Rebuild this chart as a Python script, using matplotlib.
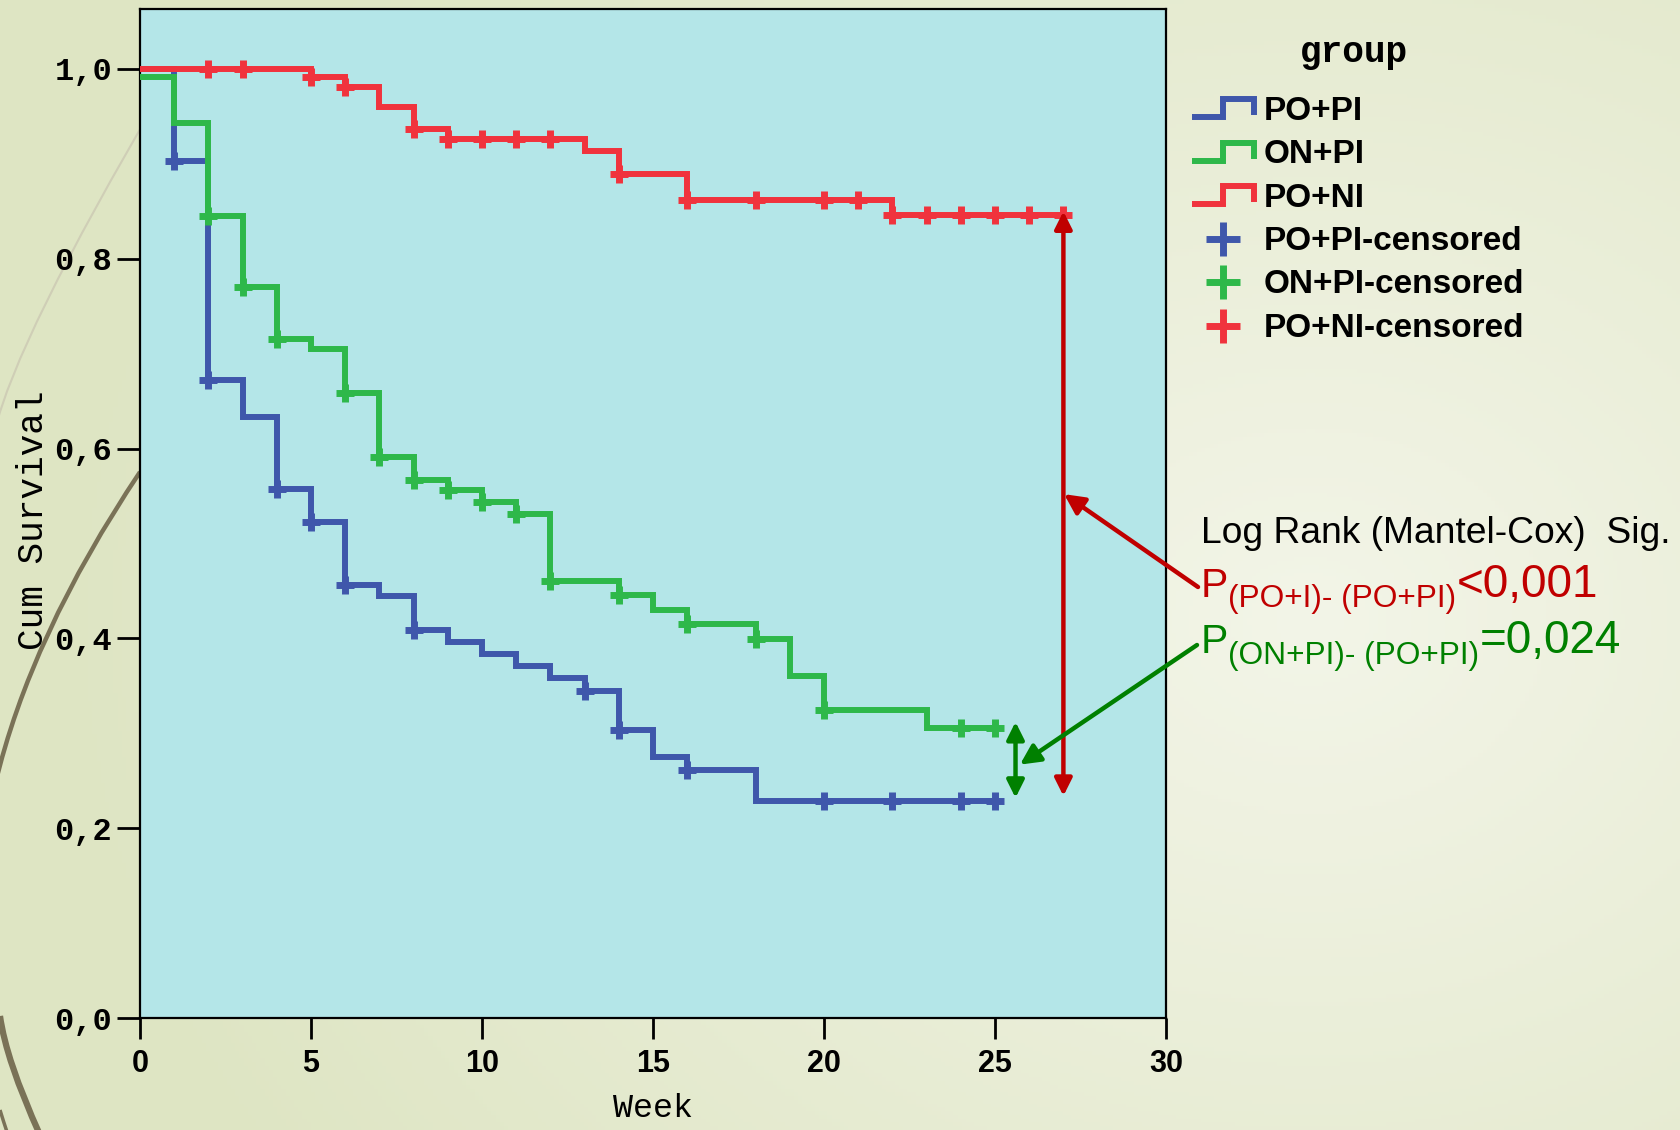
import numpy as np
import matplotlib
matplotlib.use('Agg')
import matplotlib.pyplot as plt
from matplotlib.lines import Line2D
from matplotlib.legend_handler import HandlerBase
from matplotlib.path import Path
from matplotlib.patches import PathPatch
from matplotlib.font_manager import FontProperties

W, H, DPI = 1680, 1130, 100

# ---------------- data ----------------
x_ticks = [0, 5, 10, 15, 20, 25, 30]
y_ticks = [0.0, 0.2, 0.4, 0.6, 0.8, 1.0]
y_tick_labels = ['0,0', '0,2', '0,4', '0,6', '0,8', '1,0']
group_names = ['PO+PI', 'ON+PI', 'PO+NI']

po_pi_times = [0, 1, 2, 3, 4, 5, 6, 7, 8, 9, 10, 11, 12, 13, 14, 15, 16, 18]
po_pi_surv = [1.0, 0.903, 0.672, 0.633, 0.557, 0.523, 0.456, 0.445, 0.409,
              0.396, 0.384, 0.371, 0.358, 0.345, 0.304, 0.275, 0.261, 0.229]
po_pi_end = 25
po_pi_censored = [1, 2, 4, 5, 6, 8, 13, 14, 16, 20, 22, 24, 25]

on_pi_times = [0, 1, 2, 3, 4, 5, 6, 7, 8, 9, 10, 11, 12, 14, 15, 16, 18, 19, 20, 23]
on_pi_surv = [0.992, 0.943, 0.845, 0.770, 0.715, 0.705, 0.659, 0.591, 0.567,
              0.556, 0.544, 0.531, 0.460, 0.446, 0.430, 0.415, 0.399, 0.360,
              0.325, 0.306]
on_pi_end = 25
on_pi_censored = [2, 3, 4, 6, 7, 8, 9, 10, 11, 12, 14, 16, 18, 20, 24, 25]

po_ni_times = [0, 5, 6, 7, 8, 9, 13, 14, 16, 22]
po_ni_surv = [1.0, 0.992, 0.981, 0.960, 0.937, 0.926, 0.914, 0.889, 0.862, 0.846]
po_ni_end = 27
po_ni_censored = [2, 3, 5, 6, 8, 9, 10, 11, 12, 14, 16, 18, 20, 21, 22, 23,
                  24, 25, 26, 27]

c_blue, c_green, c_red = '#3F57AB', '#2EB84A', '#F0333D'
c_dark_red, c_dark_green = '#C00000', '#008000'

fig = plt.figure(figsize=(W / DPI, H / DPI), dpi=DPI)

def fx(px):
    return px / W

def fy(py):
    return 1 - py / H

# ---------------- background ----------------
bg = fig.add_axes([0, 0, 1, 1], zorder=-10)
bg.set_axis_off()
gx, gy = np.meshgrid(np.linspace(0, 1, 400), np.linspace(0, 1, 300))
d = np.sqrt(((gx - 0.78) / 0.75) ** 2 + ((gy - 0.55) / 0.9) ** 2)
d = np.clip(d, 0, 1)
light = np.array([0xF3, 0xF5, 0xE8]) / 255
dark = np.array([0xDE, 0xE5, 0xC3]) / 255
img = light[None, None, :] * (1 - d[..., None]) + dark[None, None, :] * d[..., None]
bg.imshow(img, extent=[0, 1, 0, 1], origin='upper', aspect='auto')
bg.set_xlim(0, 1)
bg.set_ylim(0, 1)

def curve(p0, c, p2, color, lw):
    verts = [(fx(p0[0]), fy(p0[1])), (fx(c[0]), fy(c[1])), (fx(p2[0]), fy(p2[1]))]
    path = Path(verts, [Path.MOVETO, Path.CURVE3, Path.CURVE3])
    bg.add_patch(PathPatch(path, fill=False, edgecolor=color, lw=lw))

curve((160, 95), (16, 340), (-5, 430), '#CFCEB6', 1.5)
curve((140, 472), (30, 636), (-5, 785), '#7A7257', 3.2)
curve((0, 1016), (6, 1060), (40, 1135), '#7A7257', 4.5)
curve((0, 1110), (3, 1120), (8, 1135), '#7A7257', 2.5)

# ---------------- main axes ----------------
ax = fig.add_axes([fx(140), fy(1018), fx(1166) - fx(140), fy(8.5) - fy(1018)])
ax.set_facecolor('#B4E6E8')
ax.set_xlim(0, 30)
ax.set_ylim(0, (1018 - 8.5) / 949)

series = [
    (po_pi_times, po_pi_surv, po_pi_end, po_pi_censored, c_blue),
    (on_pi_times, on_pi_surv, on_pi_end, on_pi_censored, c_green),
    (po_ni_times, po_ni_surv, po_ni_end, po_ni_censored, c_red),
]
LW = 4.3
for z, (t, s, end, cens, col) in enumerate(series):
    tt = list(t) + [end]
    ss = list(s) + [s[-1]]
    ax.step(tt, ss, where='post', color=col, lw=LW, zorder=3 + z,
            solid_joinstyle='miter', solid_capstyle='butt')
    idx = np.searchsorted(np.array(t), np.array(cens), side='right') - 1
    cy = np.array(s)[idx]
    ax.plot(cens, cy, ls='none', marker='+', ms=13.5, mew=5, color=col, zorder=3 + z)

ax.set_xticks(x_ticks)
ax.set_xticklabels([str(v) for v in x_ticks], fontfamily='Liberation Sans',
                   fontweight='bold', fontsize=22)
ax.set_yticks(y_ticks)
ax.set_yticklabels(y_tick_labels, fontfamily='Liberation Mono', fontweight='bold',
                   fontsize=23)
ax.tick_params(axis='x', length=15, width=2, pad=7, direction='out')
ax.tick_params(axis='y', length=16.5, width=2, pad=3.5, direction='out')
for sp in ax.spines.values():
    sp.set_linewidth(1.6)
    sp.set_color('black')

ax.set_ylabel('Cum Survival', fontfamily='Liberation Mono', fontsize=26)
ax.yaxis.set_label_coords(-0.0865, 0.493)
ax.set_xlabel('Week', fontfamily='Liberation Mono', fontsize=24, va='top')
ax.xaxis.set_label_coords(0.5, -0.0745)

# ---------------- comparison arrows ----------------
ax.annotate('', xy=(27, po_ni_surv[-1] + 0.004), xytext=(27, po_pi_surv[-1] + 0.005),
            arrowprops=dict(arrowstyle='<|-|>', color=c_dark_red, lw=3.2,
                            mutation_scale=26, shrinkA=0, shrinkB=0),
            zorder=10)
ax.annotate('', xy=(25.6, on_pi_surv[-1] + 0.006), xytext=(25.6, po_pi_surv[-1] + 0.003),
            arrowprops=dict(arrowstyle='<|-|>', color=c_dark_green, lw=3.2,
                            mutation_scale=26, shrinkA=0, shrinkB=0),
            zorder=10)
ax.annotate('', xy=(27.02, 0.552), xycoords='data',
            xytext=(fx(1198), fy(587)), textcoords='figure fraction',
            arrowprops=dict(arrowstyle='-|>', color=c_dark_red, lw=3.2,
                            mutation_scale=30, shrinkA=0, shrinkB=0),
            annotation_clip=False, zorder=11)
ax.annotate('', xy=(25.73, 0.267), xycoords='data',
            xytext=(fx(1197), fy(645)), textcoords='figure fraction',
            arrowprops=dict(arrowstyle='-|>', color=c_dark_green, lw=3.2,
                            mutation_scale=30, shrinkA=0, shrinkB=0),
            annotation_clip=False, zorder=12)

# ---------------- legend ----------------
class StepLine(Line2D):
    pass

class StepHandler(HandlerBase):
    def create_artists(self, legend, orig_handle, xdescent, ydescent,
                       width, height, fontsize, trans):
        xs = np.array([0, 0.5, 0.5, 1.0, 1.0]) * width - xdescent
        ys = np.array([0.05, 0.05, 0.95, 0.95, 0.15]) * height - ydescent
        ln = Line2D(xs, ys, color=orig_handle.get_color(),
                    lw=orig_handle.get_linewidth(), solid_joinstyle='miter',
                    solid_capstyle='butt')
        ln.set_transform(trans)
        return [ln]

handles, labels = [], []
for name, col in zip(group_names, [c_blue, c_green, c_red]):
    handles.append(StepLine([], [], color=col, lw=4.3))
    labels.append(name)
for name, col in zip(group_names, [c_blue, c_green, c_red]):
    handles.append(Line2D([], [], ls='none', marker='+', ms=25, mew=5, color=col))
    labels.append(name + '-censored')

leg = fig.legend(handles, labels, loc='upper left',
                 bbox_to_anchor=(fx(1192), fy(96)),
                 handler_map={StepLine: StepHandler()},
                 frameon=False, borderpad=0, borderaxespad=0,
                 handlelength=1.85, handleheight=0.55, handletextpad=0.3,
                 labelspacing=0.37,
                 prop=FontProperties(family='Liberation Sans', weight='bold', size=24))

fig.text(fx(1354), fy(52), 'group', fontfamily='Liberation Mono', fontweight='bold',
         fontsize=26, ha='center', va='center')

# ---------------- log rank text ----------------
fig.text(fx(1201), fy(543), 'Log Rank (Mantel-Cox)  Sig.', fontfamily='Liberation Sans',
         fontsize=26.8, color='black', va='baseline', ha='left')

renderer = fig.canvas.get_renderer()

def pieces(x0, base, items):
    x = x0
    for txt, size, dy, col in items:
        t = fig.text(fx(x), fy(base + dy), txt, fontfamily='Liberation Sans',
                     fontsize=size, color=col, va='baseline', ha='left')
        bb = t.get_window_extent(renderer=renderer)
        x = bb.x1

pieces(1201, 597, [('P', 29.5, 0, c_dark_red),
                   ('(PO+I)- (PO+PI)', 22.8, 10, c_dark_red),
                   ('<0,001', 33, 0, c_dark_red)])
pieces(1201, 653, [('P', 29.5, 0, c_dark_green),
                   ('(ON+PI)- (PO+PI)', 22.8, 11, c_dark_green),
                   ('=0,024', 33, 0, c_dark_green)])

fig.savefig('out.png', dpi=DPI)
